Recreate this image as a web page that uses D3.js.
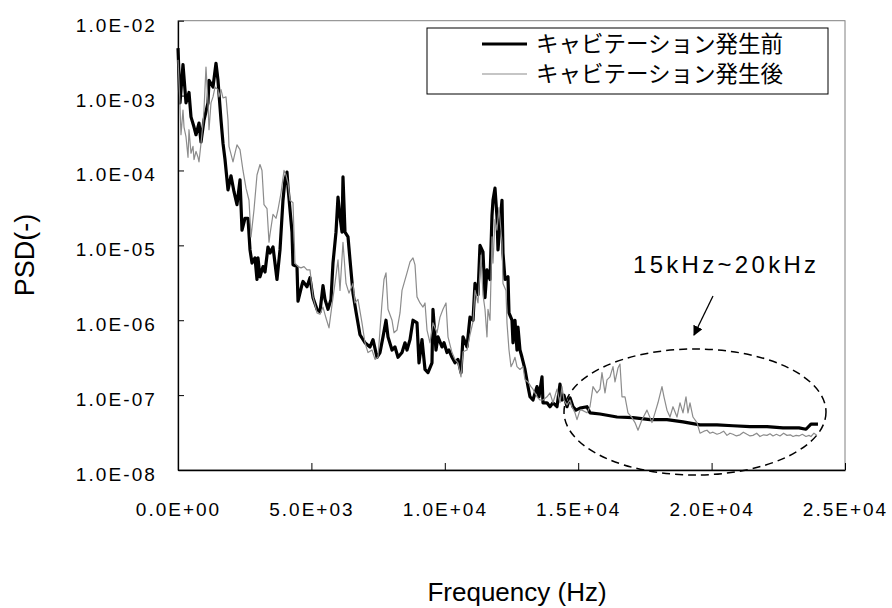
<!DOCTYPE html>
<html><head><meta charset="utf-8">
<script src="https://cdn.jsdelivr.net/npm/d3@7/dist/d3.min.js"></script>
<style>
html,body{margin:0;padding:0;background:#fff;}
svg{display:block;}
</style></head>
<body>
<svg id="chart" width="892" height="608"></svg>
<script>
// ---------- data ----------
const blackFreq = [0,75,187,300,412,487,600,675,787,862,974,1124,1162,1312,1424,1499,1612,1687,1762,1874,1986,2099,2211,2324,2399,2511,2624,2699,2774,2886,2961,2998,3073,3186,3261,3373,3448,3561,3710,3823,3935,4010,4085,4123,4273,4310,4460,4498,4648,4685,4835,4947,5060,5210,5322,5435,5510,5622,5734,5809,5922,5997,6072,6147,6184,6259,6372,6447,6559,6672,6821,7009,7196,7309,7459,7571,7684,7796,7871,8021,8133,8246,8396,8508,8583,8696,8808,8958,9033,9145,9258,9370,9520,9557,9670,9745,9895,9970,10082,10157,10270,10382,10494,10607,10682,10832,10944,11057,11132,11244,11319,11431,11506,11581,11694,11769,11806,11881,11956,11994,12069,12144,12181,12256,12368,12406,12518,12556,12631,12706,12743,12818,12893,13006,13118,13193,13305,13455,13530,13643,13680,13830,13942,14055,14205,14317,14392,14467,14580,14692,14805,14917,15067,15329,15442,15816,16454,17053,17691,18328,18928,19565,20202,20801,21438,22076,22675,23275,23537,23725,23987];
const blackPSD = [4.3e-3,8.0e-4,2.6e-3,8.0e-4,1.1e-3,5.2e-4,3.8e-4,3.0e-4,4.3e-4,2.4e-4,
4.7e-4,8.0e-4,1.6e-3,1.3e-3,2.7e-3,1.6e-3,4.7e-4,2.3e-4,1.4e-4,5.5e-5,
8.5e-5,5.2e-5,3.5e-5,7.5e-5,1.6e-5,2.3e-5,2.3e-5,8.7e-6,5.8e-6,6.8e-6,
3.5e-6,6.8e-6,3.8e-6,5.2e-6,4.4e-6,9.5e-6,7.9e-6,9.5e-6,3.5e-6,8.7e-6,
4.0e-5,7.5e-5,9.5e-5,6.0e-5,1.5e-5,5.5e-6,5.2e-6,1.8e-6,3.0e-6,3.3e-6,
2.8e-6,3.7e-6,2.0e-6,1.4e-6,1.3e-6,2.9e-6,1.9e-6,1.4e-6,1.9e-6,5.8e-6,
1.5e-5,4.4e-5,2.4e-5,1.5e-5,8.2e-5,1.5e-5,1.3e-5,6.4e-6,2.3e-6,1.3e-6,
6.4e-7,5.0e-7,4.4e-7,5.5e-7,3.2e-7,3.7e-7,6.0e-7,1.0e-6,6.0e-7,4.0e-7,
4.4e-7,3.2e-7,3.7e-7,5.0e-7,4.0e-7,5.5e-7,1.0e-6,9.2e-7,2.7e-7,5.5e-7,
2.2e-7,2.0e-7,2.7e-7,1.4e-6,4.0e-7,6.0e-7,4.4e-7,5.0e-7,3.7e-7,4.0e-7,
3.2e-7,2.7e-7,3.0e-7,2.0e-7,6.0e-7,4.4e-7,1.1e-6,1.0e-6,3.1e-6,2.2e-6,
1.0e-5,8.2e-6,2.0e-6,4.7e-6,3.5e-6,2.5e-5,4.0e-5,5.8e-5,2.4e-5,8.7e-6,
2.0e-5,4.0e-5,7.9e-6,3.5e-6,3.8e-6,1.25e-6,1.0e-6,5.0e-7,1.0e-6,4.0e-7,
8.1e-7,4.0e-7,3.2e-7,2.2e-7,1.3e-7,9.5e-8,8.6e-8,1.3e-7,9.5e-8,1.75e-7,
7.9e-8,7.9e-8,7.0e-8,7.9e-8,7.0e-8,1.4e-7,8.6e-8,1.0e-7,7.0e-8,9.2e-8,
7.0e-8,6.3e-8,6.7e-8,7.0e-8,5.8e-8,5.6e-8,5.1e-8,5.0e-8,4.7e-8,4.7e-8,
4.4e-8,4.0e-8,4.0e-8,3.9e-8,3.8e-8,3.8e-8,3.65e-8,3.65e-8,3.5e-8,4.1e-8,
4.1e-8];

const grayFreq = [0,56,112,187,225,300,375,412,487,562,600,675,750,787,862,937,974,1049,1124,1162,1237,1312,1387,1499,1537,1612,1687,1799,1874,1911,2061,2136,2211,2324,2436,2549,2661,2736,2849,2961,3073,3148,3223,3336,3411,3448,3561,3673,3748,3860,3973,4048,4123,4198,4310,4385,4498,4610,4723,4835,4947,5060,5210,5322,5435,5547,5660,5772,5884,5997,6072,6184,6297,6409,6559,6634,6746,6896,7009,7121,7271,7384,7496,7646,7721,7796,7871,8021,8096,8208,8321,8396,8471,8583,8696,8808,8883,8958,9070,9183,9258,9333,9445,9557,9707,9820,9932,10045,10120,10270,10382,10494,10607,10682,10832,10944,11057,11132,11244,11356,11431,11506,11581,11619,11694,11769,11806,11881,11956,12031,12144,12181,12293,12331,12406,12481,12556,12631,12706,12818,12931,13006,13118,13230,13305,13455,13568,13680,13830,13942,14055,14205,14317,14392,14467,14580,14692,14767,14880,14955,15067,15142,15329,15442,15554,15704,15816,15891,16004,16079,16191,16304,16379,16491,16566,16641,16754,16866,17016,17128,17241,17391,17578,17765,17878,17990,18140,18215,18328,18440,18553,18703,18815,18928,19040,19115,19190,19302,19452,19565,19715,19827,19940,20052,20202,20314,20450,20576,20690,20801,20930,21064,21190,21326,21440,21551,21690,21813,21950,22076,22190,22301,22430,22563,22700,22825,22950,23050,23170,23275,23400,23537,23650,23725,23837,23950];
const grayPSD = [3.0e-3,1.1e-3,3.0e-4,6.4e-4,3.8e-4,2.8e-4,1.5e-4,3.5e-4,1.7e-4,2.1e-4,
1.4e-4,1.8e-4,1.5e-4,1.3e-4,2.3e-4,4.3e-4,6.4e-4,2.4e-3,8.0e-4,3.5e-4,
8.0e-4,9.6e-4,1.3e-3,1.2e-3,9.6e-4,1.2e-3,9.3e-4,9.6e-4,4.7e-4,2.1e-4,
1.3e-4,1.7e-4,2.2e-4,1.9e-4,1.0e-4,5.8e-5,4.0e-5,1.3e-5,3.0e-5,8.7e-5,
1.2e-4,1.0e-4,3.5e-5,3.1e-5,1.1e-5,1.4e-5,2.6e-5,2.3e-5,3.0e-5,5.0e-5,
1.0e-4,8.7e-5,6.8e-5,4.0e-5,3.7e-5,5.8e-6,5.2e-6,5.0e-6,5.2e-6,4.7e-6,
4.7e-6,2.05e-6,1.25e-6,1.2e-6,1.5e-6,1.07e-6,7.9e-7,1.6e-6,3.1e-6,6.4e-6,
2.5e-6,1.1e-5,3.1e-6,2.3e-6,3.1e-6,1.7e-6,1.9e-6,9.2e-7,5.0e-7,3.7e-7,
4.0e-7,3.0e-7,3.2e-7,1.7e-6,3.5e-6,4.3e-6,1.4e-6,1.0e-6,6.8e-7,7.4e-7,
1.25e-6,2.5e-6,3.1e-6,4.3e-6,6.0e-6,6.8e-6,5.5e-6,2.05e-6,1.7e-6,1.5e-6,
1.7e-6,7.4e-7,5.0e-7,9.2e-7,6.8e-7,1.1e-6,1.4e-6,1.7e-6,6.0e-7,3.7e-7,
3.0e-7,2.7e-7,1.75e-7,3.8e-7,4.0e-7,6.4e-7,9.5e-7,2.5e-6,1.7e-6,7.4e-6,
2.2e-6,1.4e-6,6.0e-7,1.4e-6,1.0e-6,1.3e-5,5.8e-6,2.2e-5,1.6e-5,3.2e-5,
1.1e-5,3.1e-6,2.5e-6,9.2e-7,4.0e-7,2.4e-7,2.7e-7,3.2e-7,2.4e-7,2.2e-7,
2.4e-7,1.6e-7,1.5e-7,1.3e-7,1.2e-7,9.5e-8,8.6e-8,8.6e-8,9.5e-8,1.07e-7,
7.9e-8,1.2e-7,7.9e-8,1.3e-7,8.6e-8,7.4e-8,8.6e-8,7.0e-8,5.8e-8,4.7e-8,
6.3e-8,6.3e-8,5.8e-8,7.0e-8,1.3e-7,1.07e-7,1.2e-7,2.0e-7,1.07e-7,1.6e-7,
1.75e-7,2.4e-7,1.5e-7,2.3e-7,2.6e-7,9.5e-8,9.5e-8,5.8e-8,5.0e-8,4.3e-8,
3.4e-8,4.7e-8,6.3e-8,4.3e-8,5.8e-8,7.9e-8,1.3e-7,9.5e-8,6.3e-8,5.1e-8,
7.0e-8,5.1e-8,7.9e-8,5.8e-8,9.5e-8,5.8e-8,7.9e-8,5.1e-8,4.3e-8,3.1e-8,
3.3e-8,3.4e-8,3.1e-8,3.2e-8,3.0e-8,3.1e-8,3.3e-8,2.9e-8,3.1e-8,3.0e-8,
2.85e-8,2.95e-8,3.2e-8,3.0e-8,2.85e-8,2.9e-8,3.1e-8,2.8e-8,2.95e-8,2.9e-8,
3.05e-8,2.85e-8,3.0e-8,2.85e-8,3.1e-8,2.9e-8,2.95e-8,2.8e-8,2.9e-8,2.85e-8,
3.0e-8,2.8e-8,2.9e-8,2.8e-8,3.1e-8,2.9e-8];

const seriesNames = ["キャビテーション発生前", "キャビテーション発生後"];
const xTickValues = [0, 5000, 10000, 15000, 20000, 25000];
const xTickLabels = ["0.0E+00", "5.0E+03", "1.0E+04", "1.5E+04", "2.0E+04", "2.5E+04"];
const yTickValues = [1e-2, 1e-3, 1e-4, 1e-5, 1e-6, 1e-7, 1e-8];
const yTickLabels = ["1.0E-02", "1.0E-03", "1.0E-04", "1.0E-05", "1.0E-06", "1.0E-07", "1.0E-08"];
const xTitle = "Frequency (Hz)";
const yTitle = "PSD(-)";
const noteText = "15kHz~20kHz";

// ---------- layout ----------
const L = 178, R = 845, T = 20.7, B = 470;
const svg = d3.select("#chart");
const latin = "'Liberation Sans', Arial, sans-serif";
const cjk = "'Noto Sans CJK JP', sans-serif";

const x = d3.scaleLinear().domain([0, 25000]).range([L, R]);
const y = d3.scaleLog().domain([1e-8, 1e-2]).range([B, T]);

// frame
svg.append("rect").attr("x", L).attr("y", T).attr("width", R - L).attr("height", B - T)
  .attr("fill", "none").attr("stroke", "#808080").attr("stroke-width", 1);

// axes
const yAxis = d3.axisLeft(y).tickValues(yTickValues)
  .tickFormat((d, i) => yTickLabels[i]).tickSizeInner(-6).tickSizeOuter(0).tickPadding(21);
const gy = svg.append("g").attr("transform", `translate(${L},0)`).call(yAxis);
gy.select(".domain").attr("stroke", "#000").attr("stroke-width", 1.3);
gy.selectAll(".tick line").attr("stroke", "#000");
gy.selectAll("text").attr("font-family", latin).attr("font-size", 19)
  .attr("letter-spacing", "2.1px").attr("fill", "#000").attr("dy", "0.55em");

const xAxis = d3.axisBottom(x).tickValues(xTickValues)
  .tickFormat((d, i) => xTickLabels[i]).tickSizeInner(-7).tickSizeOuter(0).tickPadding(33);
const gx = svg.append("g").attr("transform", `translate(0,${B})`).call(xAxis);
gx.select(".domain").attr("stroke", "#000").attr("stroke-width", 1.3);
gx.selectAll(".tick line").attr("stroke", "#000");
gx.selectAll("text").attr("font-family", latin).attr("font-size", 19)
  .attr("letter-spacing", "2px").attr("fill", "#000");

// lines
const line = d3.line().x(d => x(d[0])).y(d => y(d[1]));
const blackData = blackFreq.map((f, i) => [f, blackPSD[i]]);
const grayData = grayFreq.map((f, i) => [f, grayPSD[i]]);
svg.append("path").datum(blackData).attr("d", line).attr("fill", "none")
  .attr("stroke", "#000").attr("stroke-width", 3.2).attr("stroke-linejoin", "round");
svg.append("path").datum(grayData).attr("d", line).attr("fill", "none")
  .attr("stroke", "#8c8c8c").attr("stroke-width", 1.2).attr("stroke-linejoin", "round");

// legend
const lg = svg.append("g");
lg.append("rect").attr("x", 427).attr("y", 28).attr("width", 401).attr("height", 66)
  .attr("fill", "#fff").attr("stroke", "#000").attr("stroke-width", 1);
const legendItems = [{name: seriesNames[0], color: "#000", w: 3, y: 44},
                     {name: seriesNames[1], color: "#8c8c8c", w: 1.2, y: 74}];
legendItems.forEach(it => {
  lg.append("line").attr("x1", 482).attr("x2", 527).attr("y1", it.y).attr("y2", it.y)
    .attr("stroke", it.color).attr("stroke-width", it.w);
  lg.append("text").attr("x", 536).attr("y", it.y + 8).attr("font-family", cjk)
    .attr("font-size", 22.5).attr("fill", "#000").text(it.name);
});

// axis titles
svg.append("text").attr("x", 517).attr("y", 601).attr("text-anchor", "middle")
  .attr("font-family", latin).attr("font-size", 26).attr("fill", "#000").text(xTitle);
svg.append("text").attr("transform", "translate(34,255) rotate(-90)").attr("text-anchor", "middle")
  .attr("font-family", latin).attr("font-size", 27).attr("fill", "#000").text(yTitle);

// annotation
svg.append("ellipse").attr("cx", 695).attr("cy", 412).attr("rx", 131).attr("ry", 63)
  .attr("fill", "none").attr("stroke", "#000").attr("stroke-width", 1.5)
  .attr("stroke-dasharray", "8,5");
svg.append("defs").append("marker").attr("id", "ah").attr("viewBox", "0 0 10 10")
  .attr("refX", 9).attr("refY", 5).attr("markerWidth", 10).attr("markerHeight", 10)
  .attr("markerUnits", "userSpaceOnUse").attr("orient", "auto")
  .append("path").attr("d", "M0,0 L10,5 L0,10 z").attr("fill", "#000");
svg.append("line").attr("x1", 713).attr("y1", 296).attr("x2", 694).attr("y2", 335)
  .attr("stroke", "#000").attr("stroke-width", 1.3).attr("marker-end", "url(#ah)");
svg.append("text").attr("x", 633).attr("y", 273).attr("font-family", latin)
  .attr("font-size", 24).attr("letter-spacing", "3.3px").attr("fill", "#000").text(noteText);
</script>
</body></html>
